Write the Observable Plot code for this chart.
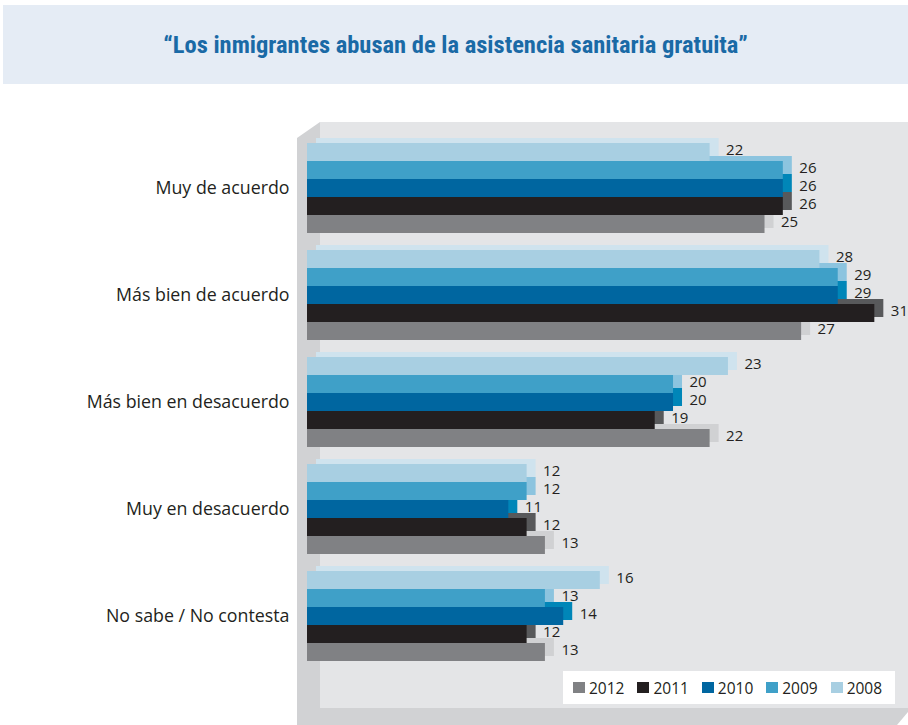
<!DOCTYPE html>
<html><head><meta charset="utf-8">
<script src="https://cdn.jsdelivr.net/npm/d3@7"></script>
<script src="https://cdn.jsdelivr.net/npm/@observablehq/plot@0.6"></script>
<style>
body{margin:0;background:#fff;}
#wrap{position:relative;width:908px;height:725px;overflow:hidden;font-family:"Open Sans",sans-serif;}
#title{position:absolute;left:3px;top:5px;width:905px;height:79px;background:#e5ecf5;display:flex;align-items:center;justify-content:center;color:#1a6aa6;font-weight:bold;font-size:24.5px;font-family:"Liberation Sans Narrow","Roboto Condensed",sans-serif;}
#outer{position:absolute;left:297px;top:122px;width:611px;height:603px;background:#d1d2d4;clip-path:polygon(0 16px,23px 0,100% 0,100% 590px,600px 100%,0 100%);}
#back{position:absolute;left:320px;top:122px;width:588px;height:586px;background:#e4e5e7;}
#chart{position:absolute;left:0;top:90px;}
#legend{position:absolute;left:563px;top:671px;width:332px;height:33px;background:#fff;display:flex;align-items:center;padding-left:10px;box-sizing:border-box;}
#legend .it{display:flex;align-items:center;width:66.5px;font-size:15.5px;color:#231f20;}
#legend .sw{width:12px;height:11px;margin-right:4px;}
</style></head>
<body><div id="wrap">
<div id="title"></div>
<div id="outer"></div>
<div id="back"></div>
<div id="chart"></div>
<div id="legend"></div>
</div>
<script>
const titleText = "“Los inmigrantes abusan de la asistencia sanitaria gratuita”";
const categories = ["Muy de acuerdo","Más bien de acuerdo","Más bien en desacuerdo","Muy en desacuerdo","No sabe / No contesta"];
const years = ["2008","2009","2010","2011","2012"];
const v2008 = [22,28,23,12,16];
const v2009 = [26,29,20,12,13];
const v2010 = [26,29,20,11,14];
const v2011 = [26,31,19,12,12];
const v2012 = [25,27,22,13,13];
const legendYears = ["2012","2011","2010","2009","2008"];
const frontColors = ["#a8cfe2","#3fa0c8","#0066a0","#231f20","#808184"];
const sideColors = ["#cfe3ee","#8cc4df","#0086b8","#58595b","#d0d1d3"];

document.getElementById("title").textContent = titleText;

const series = {"2008":v2008,"2009":v2009,"2010":v2010,"2011":v2011,"2012":v2012};
const data = [];
categories.forEach((c,i)=>years.forEach(y=>data.push({category:c, year:y, side:"s"+y, value:series[y][i]})));

const plot = Plot.plot({
  width:908, height:635, marginLeft:307, marginRight:0, marginTop:51, marginBottom:61,
  x:{domain:[0,32.84], axis:null},
  fy:{domain:categories, paddingInner:0.14, paddingOuter:0, label:null},
  y:{domain:years, padding:0, axis:null},
  color:{domain:years.concat(years.map(y=>"s"+y)), range:frontColors.concat(sideColors)},
  style:{background:"transparent", fontFamily:"Open Sans", fontSize:"16px", color:"#231f20", overflow:"visible"},
  marks:[
    Plot.axisFy({anchor:"left", tickSize:0, tickPadding:18, fontSize:17.8, label:null, fill:"#231f20"}),
    Plot.barX(data,{x:"value", y:"year", fy:"category", fill:"side", dx:9, dy:-5}),
    Plot.barX(data,{x:"value", y:"year", fy:"category", fill:"year"}),
    Plot.text(data,{x:"value", y:"year", fy:"category", text:d=>String(d.value), dx:16, dy:-2, textAnchor:"start", fontSize:15, fill:"#231f20"})
  ]
});
document.getElementById("chart").appendChild(plot);

const lg = document.getElementById("legend");
legendYears.forEach(y=>{
  const it = document.createElement("div"); it.className="it";
  const sw = document.createElement("div"); sw.className="sw"; sw.style.background = frontColors[years.indexOf(y)];
  const t = document.createElement("span"); t.textContent = y;
  it.appendChild(sw); it.appendChild(t); lg.appendChild(it);
});
</script>
</body></html>
